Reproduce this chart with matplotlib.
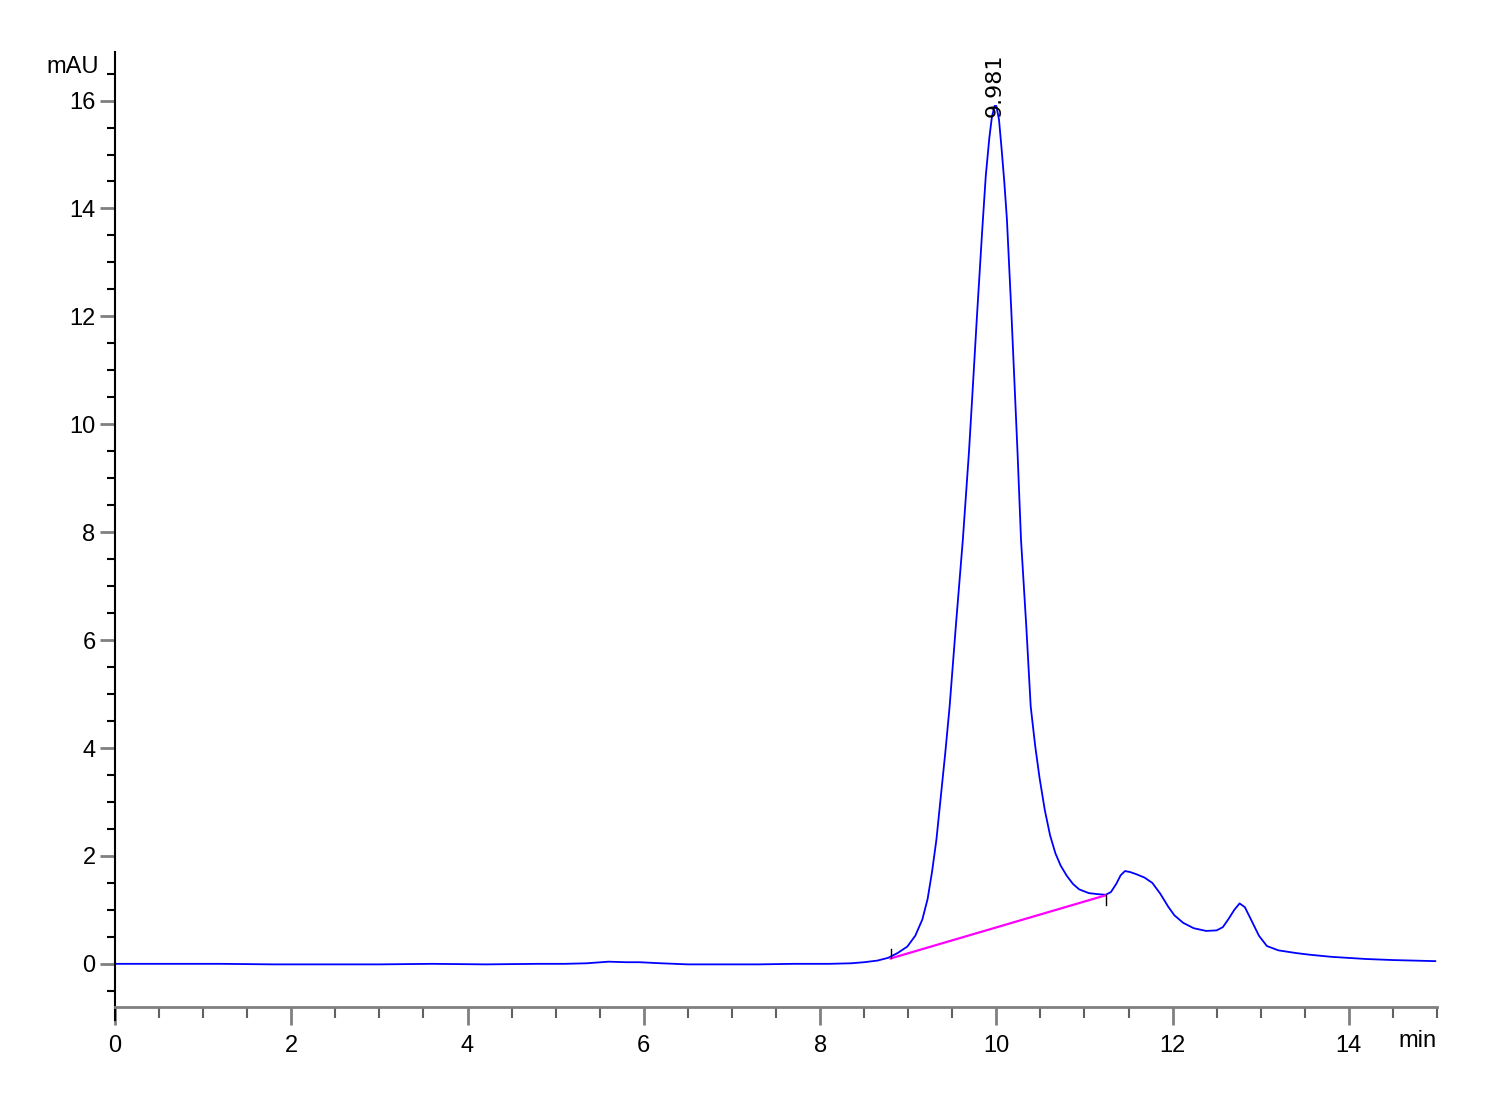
import matplotlib
matplotlib.use('Agg')
import matplotlib.pyplot as plt
from matplotlib.ticker import MultipleLocator

# chromatogram signal (min, mAU)
time = [0.0, 0.6, 1.2, 1.8, 2.4, 3.0, 3.6, 4.2, 4.8, 5.1, 5.35, 5.6, 5.8, 5.95,
        6.2, 6.5, 6.9, 7.3, 7.7, 8.1, 8.35, 8.5, 8.65, 8.77, 8.88, 8.99, 9.08,
        9.16, 9.22, 9.27, 9.32, 9.37, 9.42, 9.47, 9.54, 9.62, 9.69, 9.73, 9.78,
        9.84, 9.88, 9.92, 9.95, 9.98, 10.0, 10.03, 10.06, 10.09, 10.12, 10.17,
        10.24, 10.28, 10.34, 10.39, 10.44, 10.49, 10.55, 10.61, 10.67, 10.73,
        10.80, 10.87, 10.94, 11.05, 11.16, 11.24, 11.30, 11.36, 11.41, 11.46,
        11.52, 11.59, 11.68, 11.77, 11.86, 11.95, 12.02, 12.12, 12.24, 12.38,
        12.50, 12.57, 12.63, 12.70, 12.76, 12.82, 12.89, 12.98, 13.07, 13.2,
        13.4, 13.55, 13.8, 14.19, 14.5, 14.98]
signal = [0.0, 0.0, 0.0, -0.01, -0.01, -0.01, 0.0, -0.01, 0.0, 0.0, 0.01,
          0.04, 0.03, 0.03, 0.01, -0.01, -0.01, -0.01, 0.0, 0.0, 0.01, 0.03,
          0.06, 0.11, 0.2, 0.32, 0.52, 0.82, 1.2, 1.7, 2.3, 3.1, 3.9, 4.77,
          6.25, 7.86, 9.5, 10.6, 12.0, 13.6, 14.6, 15.3, 15.7, 15.9, 15.9,
          15.65, 15.1, 14.5, 13.8, 12.1, 9.5, 7.86, 6.25, 4.77, 4.05, 3.45,
          2.85, 2.38, 2.05, 1.82, 1.63, 1.48, 1.38, 1.31, 1.29, 1.28, 1.33,
          1.48, 1.64, 1.72, 1.70, 1.66, 1.60, 1.50, 1.30, 1.06, 0.9, 0.76,
          0.66, 0.61, 0.62, 0.68, 0.82, 1.0, 1.12, 1.05, 0.82, 0.52, 0.33,
          0.25, 0.2, 0.17, 0.13, 0.09, 0.07, 0.05]

# integration baseline and peak label
base_t = [8.80, 11.24]
base_v = [0.10, 1.27]
peak_rt = 9.981
peak_h = 15.7

fig = plt.figure(figsize=(15, 11), dpi=100)
ax = fig.add_axes([115/1500, 1 - 1007/1100, (1437-115)/1500, (1007-52)/1100])

ax.plot(time, signal, color='#0000ff', lw=1.3)
ax.plot(base_t, base_v, color='#ff00ff', lw=1.6)
# small tick marks at baseline start/end
ax.plot([base_t[0], base_t[0]], [base_v[0], base_v[0] + 0.18], color='black', lw=1)
ax.plot([base_t[1], base_t[1]], [base_v[1], base_v[1] - 0.18], color='black', lw=1)

ax.text(peak_rt, peak_h, '%.3f' % peak_rt, rotation=90, ha='center', va='bottom',
        fontsize=16, family='DejaVu Sans', clip_on=False)

ax.set_xlim(0, 15)
ax.set_ylim(-0.8, 16.9)

for s in ['top', 'right']:
    ax.spines[s].set_visible(False)
ax.spines['bottom'].set_color('#808080')
ax.spines['bottom'].set_linewidth(2)
ax.spines['left'].set_color('black')
ax.spines['left'].set_linewidth(1.5)
ax.spines['left'].set_bounds(-1.05, 16.9)

ax.xaxis.set_major_locator(MultipleLocator(2))
ax.xaxis.set_minor_locator(MultipleLocator(0.5))
ax.yaxis.set_major_locator(MultipleLocator(2))
ax.yaxis.set_minor_locator(MultipleLocator(0.5))

fnt = ['Liberation Sans Narrow', 'Liberation Sans']
ax.tick_params(axis='x', which='major', length=13, width=2, color='#808080',
               pad=7, labelsize=17)
ax.tick_params(axis='x', which='minor', length=8, width=1.5, color='#606060')
ax.tick_params(axis='y', which='major', length=11, width=2, color='#808080',
               pad=3, labelsize=17)
ax.tick_params(axis='y', which='minor', length=6, width=1.5, color='black')
for lab in ax.get_xticklabels() + ax.get_yticklabels():
    lab.set_family(fnt)

fig.text(99/1500, 1 - 67/1100, 'mAU', ha='right', va='center', fontsize=17, family=fnt)
fig.text(1437/1500, 1 - 1041/1100, 'min', ha='right', va='center', fontsize=17, family=fnt)

fig.savefig('out.png', dpi=100)
